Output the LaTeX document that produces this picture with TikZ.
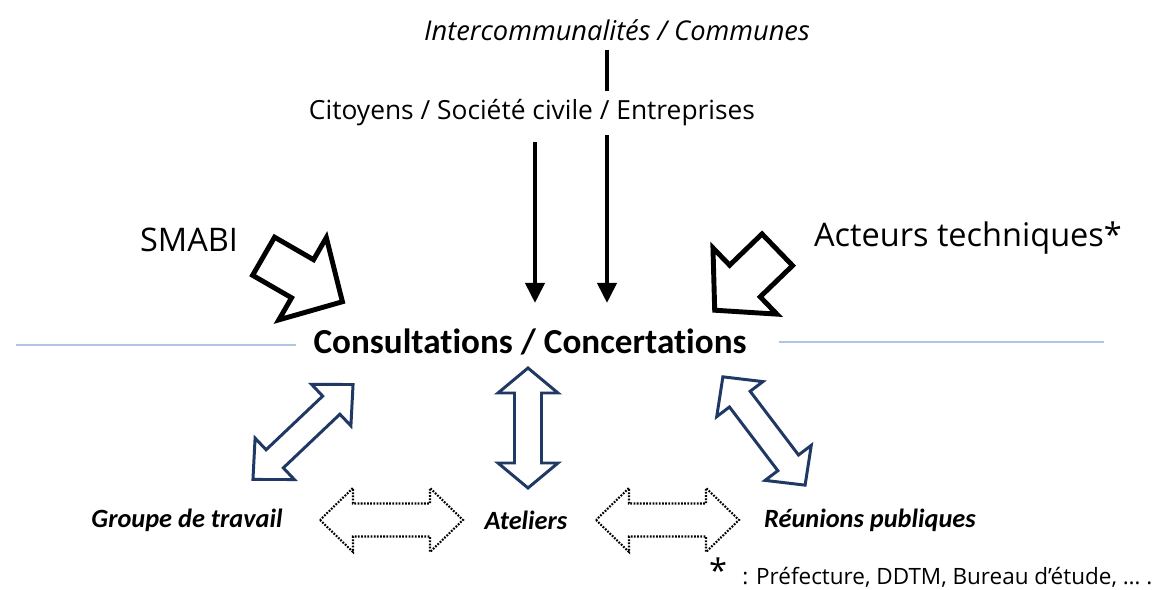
\documentclass[tikz,border=0pt]{standalone}
\usepackage{fontspec}
\setmainfont{Carlito}[Ligatures=NoCommon]
\newfontfamily\segoe{Open Sans}
\usetikzlibrary{arrows.meta}
\definecolor{navy}{RGB}{31,56,100}
\definecolor{rulecol}{RGB}{176,196,230}

% hollow block arrows: style, x, y, angle, length, shaft, head width, head length
\newcommand{\blockarrow}[8]{%
  \begin{scope}[shift={(#2,#3)}, rotate=#4]
    \draw[#1] ({-#5/2},{#6/2}) -- ({#5/2-#8},{#6/2}) -- ({#5/2-#8},{#7/2}) -- ({#5/2},0)
      -- ({#5/2-#8},{-#7/2}) -- ({#5/2-#8},{-#6/2}) -- ({-#5/2},{-#6/2}) -- cycle;
  \end{scope}}
\newcommand{\twowayarrow}[8]{%
  \begin{scope}[shift={(#2,#3)}, rotate=#4]
    \draw[#1] ({-#5/2},0) -- ({-#5/2+#8},{#7/2}) -- ({-#5/2+#8},{#6/2}) -- ({#5/2-#8},{#6/2})
      -- ({#5/2-#8},{#7/2}) -- ({#5/2},0) -- ({#5/2-#8},{-#7/2}) -- ({#5/2-#8},{-#6/2})
      -- ({-#5/2+#8},{-#6/2}) -- ({-#5/2+#8},{-#7/2}) -- cycle;
  \end{scope}}

\tikzset{
  bigarrow/.style={line width=2.8pt, draw=black, fill=white},
  linkarrow/.style={line width=1.7pt, draw=navy, fill=white},
  dotarrow/.style={line width=1.2pt, draw=black, dash pattern=on 1pt off 0.8pt},
  stem/.style={line width=2.3pt},
  tip/.style={-{Triangle[length=0.4cm, width=0.38cm]}},
  rule/.style={rulecol, line width=0.8pt},
  intertext/.style={font=\segoe\itshape\fontsize{15.5}{17}\selectfont, inner sep=5pt},
  plain/.style={font=\segoe\fontsize{15}{17}\selectfont, inner sep=5pt},
  big/.style={font=\segoe\fontsize{18.5}{20}\selectfont},
  hub/.style={font=\bfseries\fontsize{20}{22}\selectfont, inner sep=10pt},
  group/.style={font=\bfseries\itshape\fontsize{15}{17}\selectfont},
  note/.style={font=\segoe\fontsize{12.8}{15}\selectfont, inner sep=0pt}
}

\begin{document}
\begin{tikzpicture}[x=0.02cm, y=-0.02cm]
    \useasboundingbox (0,0) rectangle (1161,590);

    \node[intertext] (inter) at (617,30) {Intercommunalités / Communes};
    \node[plain] (citoyens) at (532,113) {Citoyens / Société civile / Entreprises};
    \node[hub] (consult) at (530,342) {Consultations / Concertations};
    \node[big] (smabi) at (189,240) {SMABI};
    \node[big] (acteurs) at (968,238) {Acteurs techniques*};
    \node[group] (groupe) at (187,520) {Groupe de travail};
    \node[group] (ateliers) at (526,520) {Ateliers};
    \node[group] (reunions) at (870,520) {Réunions publiques};
    \node[big, inner sep=0pt] (star) at (718,570) {*};
    \node[note, anchor=west] (note) at (742,577) {: Préfecture, DDTM, Bureau d’étude, … .};

    % lines from the top
    \draw[stem] (inter.south -| 607,0) -- (citoyens.north -| 607,0);
    \draw[stem, tip, shorten <=0.14cm, shorten >=0.16cm] (citoyens.south -| 535,0) -- (consult.north -| 535,0);
    \draw[stem, tip, shorten >=0.16cm] (citoyens.south -| 607,0) -- (consult.north -| 607,0);

    \draw[rule] ([yshift=-0.06cm]consult.west) -- ++(-280,0);
    \draw[rule] ([xshift=0.3cm]consult.east) -- ++(325,0);

    \blockarrow{bigarrow}{303}{279}{-30}{91}{44}{95}{46}
    \blockarrow{bigarrow}{746}{280}{224}{87}{44}{92}{42}

    \twowayarrow{linkarrow}{303}{432}{43.5}{138}{25}{57}{30}
    \twowayarrow{linkarrow}{528}{428}{90}{120}{27}{60}{25}
    \twowayarrow{linkarrow}{764}{431}{-52.8}{136}{26}{58}{28}

    \foreach \cx in {391.5,667.5}{
        \twowayarrow{dotarrow}{\cx}{520}{0}{143}{33}{64}{33}
    }

\end{tikzpicture}
\end{document}
